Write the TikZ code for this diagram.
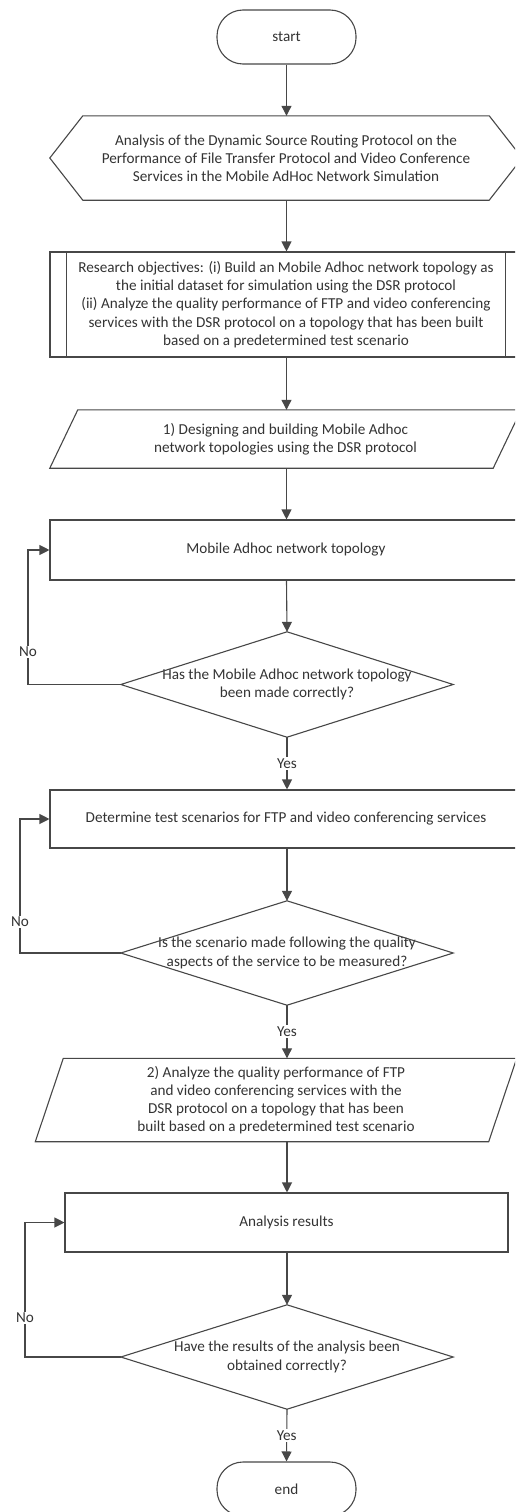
\documentclass[tikz,border=0pt]{standalone}
\usepackage{fontspec}
\setmainfont{Carlito}
\usetikzlibrary{arrows.meta,calc}
\begin{document}
\begin{tikzpicture}[x=1pt,y=-1pt,
  every node/.style={text=black!80, font=\fontsize{15.2}{18.2}\selectfont},
  outline/.style={draw=black!72, line width=1.1pt},
  shapebox/.style={rectangle, inner sep=0pt, align=center},
  arr/.style={draw=black!72, line width=1.1pt, -{Triangle[width=10pt,length=10pt]}},
  lbl/.style={fill=white, inner sep=1.5pt}
]
\useasboundingbox (0,0) rectangle (515,1512);
\clip (0,0) rectangle (515,1512);

% terminal: start
\node[shapebox, outline, rounded corners=26pt, minimum width=139pt, minimum height=54pt] (start) at (286.5,37) {start};

% preparation (hexagon)
\node[shapebox, minimum width=472pt, minimum height=84pt] (hex) at (286,158)
  {Analysis of the Dynamic Source Routing Protocol on the\\
   Performance of File Transfer Protocol and Video Conference\\
   Services in the Mobile AdHoc Network Simulation};
\draw[outline] (hex.west) -- ($(hex.north west)+(33,0)$) -- ($(hex.north east)+(-33,0)$)
  -- (hex.east) -- ($(hex.south east)+(-33,0)$) -- ($(hex.south west)+(33,0)$) -- cycle;

% predefined process
\node[shapebox, outline, minimum width=472pt, minimum height=105pt] (obj) at (286,304.5)
  {Research objectives: (i) Build an Mobile Adhoc network topology as\\
   the initial dataset for simulation using the DSR protocol\\
   (ii) Analyze the quality performance of FTP and video conferencing\\
   services with the DSR protocol on a topology that has been built\\
   based on a predetermined test scenario};
\draw[outline] ($(obj.north west)+(17,0)$) -- ($(obj.south west)+(17,0)$);
\draw[outline] ($(obj.north east)+(-17,0)$) -- ($(obj.south east)+(-17,0)$);

% data 1 (parallelogram)
\node[shapebox, minimum width=443pt, minimum height=58pt] (p1) at (285.5,439)
  {1) Designing and building Mobile Adhoc\\
   network topologies using the DSR protocol};
\draw[outline] ($(p1.north west)+(14,0)$) -- ($(p1.north east)+(14,0)$)
  -- ($(p1.south east)+(-14,0)$) -- ($(p1.south west)+(-14,0)$) -- cycle;

% process: topology
\node[shapebox, outline, minimum width=472pt, minimum height=60pt] (topo) at (286,550)
  {Mobile Adhoc network topology};

% decision 1
\node[shapebox, minimum width=332pt, minimum height=105pt] (dia1) at (287,684.5)
  {Has the Mobile Adhoc network topology\\been made correctly?};
\draw[outline] (dia1.north) -- (dia1.east) -- (dia1.south) -- (dia1.west) -- cycle;

% process: scenarios
\node[shapebox, outline, minimum width=472pt, minimum height=58pt] (scen) at (286,819)
  {Determine test scenarios for FTP and video conferencing services};

% decision 2
\node[shapebox, minimum width=332pt, minimum height=104pt] (dia2) at (287,953)
  {Is the scenario made following the quality\\aspects of the service to be measured?};
\draw[outline] (dia2.north) -- (dia2.east) -- (dia2.south) -- (dia2.west) -- cycle;

% data 2 (parallelogram)
\node[shapebox, minimum width=453pt, minimum height=83pt] (p2) at (276,1100)
  {2) Analyze the quality performance of FTP\\
   and video conferencing services with the\\
   DSR protocol on a topology that has been\\
   built based on a predetermined test scenario};
\draw[outline] ($(p2.north west)+(14,0)$) -- ($(p2.north east)+(14,0)$)
  -- ($(p2.south east)+(-14,0)$) -- ($(p2.south west)+(-14,0)$) -- cycle;

% process: results
\node[shapebox, outline, minimum width=443pt, minimum height=59pt] (res) at (286.5,1222.5)
  {Analysis results};

% decision 3
\node[shapebox, minimum width=332pt, minimum height=104pt] (dia3) at (287,1357)
  {Have the results of the analysis been\\obtained correctly?};
\draw[outline] (dia3.north) -- (dia3.east) -- (dia3.south) -- (dia3.west) -- cycle;

% terminal: end
\node[shapebox, outline, rounded corners=26pt, minimum width=139pt, minimum height=54pt] (stop) at (286.5,1489) {end};

% main flow
\draw[arr] (start.south) -- (start.south |- hex.north);
\draw[arr] (start.south |- hex.south) -- (start.south |- obj.north);
\draw[arr] (start.south |- obj.south) -- (start.south |- p1.north);
\draw[arr] (start.south |- p1.south) -- (start.south |- topo.north);
\draw[arr] (start.south |- topo.south) -- (dia1.north);
\draw[arr] (dia1.south) -- node[lbl] (yes1) {Yes} (dia1.south |- scen.north);
\draw[arr] (dia1.south |- scen.south) -- (dia2.north);
\draw[arr] (dia2.south) -- node[lbl] (yes2) {Yes} (dia2.south |- p2.north);
\draw[arr] (dia2.south |- p2.south) -- (dia2.south |- res.north);
\draw[arr] (dia2.south |- res.south) -- (dia3.north);
\draw[arr] (dia3.south) -- node[lbl] (yes3) {Yes} (stop.north);

% loops back on "No"
\coordinate (k1) at (28,0);
\coordinate (k2) at (20,0);
\coordinate (k3) at (25,0);
\draw[arr] (dia1.west) -- (dia1.west -| k1) |- (topo.west);
\draw[arr] (dia2.west) -- (dia2.west -| k2) |- (scen.west);
\draw[arr] (dia3.west) -- (dia3.west -| k3) |- (res.west);
\node[lbl] (no1) at (28,652) {No};
\node[lbl] (no2) at (20,922) {No};
\node[lbl] (no3) at (25,1318) {No};
\end{tikzpicture}
\end{document}
